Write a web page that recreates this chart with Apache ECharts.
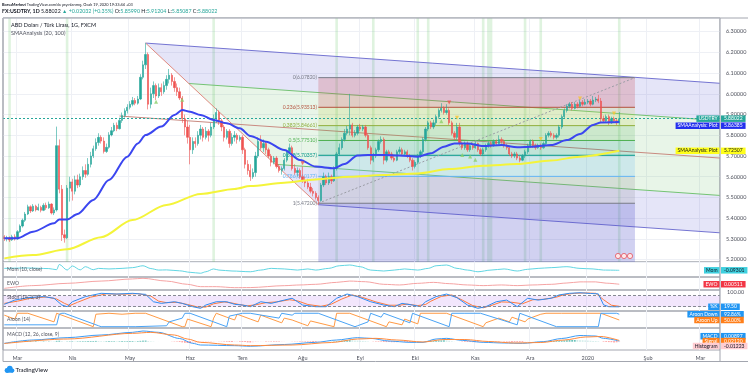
<!DOCTYPE html>
<html>
<head>
<meta charset="utf-8">
<title>USDTRY 1G</title>
<script src="https://cdn.jsdelivr.net/npm/echarts@6/dist/echarts.min.js"></script>
<style>
    html, body { margin: 0; padding: 0; background: #ffffff; }
    #chart { width: 750px; height: 377px; }
</style>
</head>
<body>
<div id="chart"></div>
<script>
// USDTRY gunluk grafik (TradingView goruntusu)

// ---- kategoriler: is gunleri, sagdaki bos alan dahil ----
var firstDay = '2019-02-22';
var dayCount = 274;
var monthNames = ['Oca', 'Şub', 'Mar', 'Nis', 'May', 'Haz', 'Tem', 'Ağu', 'Eyl', 'Eki', 'Kas', 'Ara'];

var dates = [];
(function () {
    var d = new Date(firstDay + 'T00:00:00Z');
    while (dates.length < dayCount) {
        var wd = d.getUTCDay();
        if (wd !== 0 && wd !== 6) dates.push(d.toISOString().slice(0, 10));
        d.setUTCDate(d.getUTCDate() + 1);
    }
})();

// ---- mumlar: [acilis, kapanis, dusuk, yuksek] ----
var ohlc = [
    [5.310,5.300,5.290,5.318],[5.300,5.305,5.288,5.315],[5.305,5.295,5.285,5.312],[5.295,5.310,5.290,5.320],[5.310,5.300,5.292,5.322],
    [5.300,5.335,5.296,5.342],[5.335,5.362,5.330,5.370],[5.362,5.390,5.355,5.398],[5.390,5.420,5.382,5.430],[5.420,5.455,5.415,5.465],
    [5.455,5.435,5.425,5.462],[5.435,5.458,5.430,5.468],[5.458,5.440,5.432,5.465],[5.440,5.452,5.436,5.470],[5.452,5.438,5.428,5.460],
    [5.438,5.462,5.434,5.472],[5.462,5.450,5.440,5.475],[5.450,5.468,5.445,5.480],[5.468,5.425,5.418,5.472],[5.425,5.440,5.415,5.452],
    [5.440,5.750,5.432,5.842],[5.750,5.540,5.520,5.780],[5.540,5.320,5.290,5.560],[5.320,5.305,5.282,5.345],[5.305,5.545,5.300,5.560],
    [5.545,5.575,5.480,5.600],[5.575,5.530,5.485,5.590],[5.530,5.585,5.515,5.605],[5.585,5.560,5.545,5.610],[5.560,5.600,5.550,5.615],
    [5.600,5.630,5.585,5.650],[5.630,5.612,5.595,5.660],[5.612,5.660,5.605,5.690],[5.660,5.700,5.645,5.720],[5.700,5.735,5.690,5.750],
    [5.735,5.765,5.725,5.785],[5.765,5.790,5.750,5.810],[5.790,5.772,5.760,5.800],[5.772,5.722,5.712,5.790],[5.722,5.742,5.715,5.760],
    [5.742,5.802,5.735,5.815],[5.802,5.822,5.795,5.840],[5.822,5.848,5.815,5.860],[5.848,5.832,5.820,5.862],[5.832,5.872,5.828,5.885],
    [5.872,5.895,5.860,5.910],[5.895,5.918,5.885,5.930],[5.918,5.935,5.905,5.950],[5.935,5.950,5.925,5.965],[5.950,5.968,5.940,5.985],
    [5.968,5.955,5.945,5.980],[5.955,5.975,5.948,5.990],[5.975,6.080,5.970,6.095],[6.080,6.140,6.070,6.160],[6.140,6.190,6.120,6.245],
    [6.190,5.950,5.925,6.200],[5.950,6.000,5.930,6.030],[6.000,6.040,5.980,6.060],[6.040,5.990,5.970,6.050],[5.990,6.030,5.980,6.050],
    [6.030,6.010,5.990,6.050],[6.010,6.040,6.000,6.060],[6.040,6.070,6.020,6.090],[6.070,6.090,6.050,6.120],[6.090,6.060,6.040,6.100],
    [6.060,6.030,6.010,6.080],[6.030,6.010,5.990,6.050],[6.010,5.980,5.970,6.030],[5.980,5.880,5.860,5.990],[5.880,5.840,5.800,5.900],
    [5.840,5.790,5.760,5.870],[5.790,5.730,5.660,5.850],[5.730,5.770,5.710,5.790],[5.770,5.760,5.740,5.790],[5.760,5.800,5.750,5.820],
    [5.800,5.830,5.780,5.850],[5.830,5.790,5.770,5.840],[5.790,5.820,5.780,5.840],[5.820,5.800,5.770,5.830],[5.800,5.840,5.790,5.860],
    [5.840,5.880,5.830,5.900],[5.880,5.910,5.860,5.930],[5.910,5.870,5.850,5.920],[5.870,5.840,5.820,5.880],[5.840,5.790,5.770,5.850],
    [5.790,5.820,5.780,5.830],[5.820,5.760,5.740,5.830],[5.760,5.790,5.750,5.810],[5.790,5.800,5.770,5.820],[5.800,5.780,5.760,5.810],
    [5.780,5.790,5.770,5.800],[5.790,5.730,5.710,5.800],[5.730,5.660,5.640,5.740],[5.660,5.630,5.610,5.680],[5.630,5.600,5.580,5.660],
    [5.600,5.620,5.590,5.640],[5.620,5.700,5.600,5.720],[5.700,5.770,5.690,5.790],[5.770,5.740,5.730,5.800],[5.740,5.760,5.720,5.780],
    [5.760,5.730,5.710,5.770],[5.730,5.700,5.690,5.740],[5.700,5.670,5.650,5.710],[5.670,5.690,5.660,5.700],[5.690,5.650,5.640,5.700],
    [5.650,5.630,5.620,5.660],[5.630,5.640,5.610,5.650],[5.640,5.680,5.630,5.690],[5.680,5.720,5.670,5.730],[5.720,5.740,5.710,5.760],
    [5.740,5.640,5.630,5.750],[5.640,5.620,5.610,5.660],[5.620,5.630,5.600,5.645],[5.630,5.600,5.590,5.640],[5.600,5.580,5.570,5.650],
    [5.580,5.570,5.550,5.600],[5.570,5.550,5.540,5.590],[5.550,5.530,5.520,5.570],[5.530,5.520,5.505,5.545],[5.520,5.500,5.490,5.530],
    [5.500,5.485,5.465,5.510],[5.485,5.560,5.480,5.570],[5.560,5.600,5.550,5.620],[5.600,5.570,5.560,5.610],[5.570,5.600,5.560,5.620],
    [5.600,5.580,5.565,5.610],[5.580,5.640,5.575,5.650],[5.640,5.710,5.630,5.720],[5.710,5.740,5.700,5.760],[5.740,5.780,5.730,5.790],
    [5.780,5.810,5.770,5.830],[5.810,5.830,5.800,5.845],[5.830,5.850,5.800,6.000],[5.850,5.800,5.790,5.860],[5.800,5.810,5.790,5.825],
    [5.810,5.840,5.800,5.850],[5.840,5.830,5.820,5.855],[5.830,5.840,5.820,5.850],[5.840,5.800,5.790,5.850],[5.800,5.740,5.730,5.810],
    [5.740,5.680,5.660,5.750],[5.680,5.700,5.670,5.715],[5.700,5.730,5.690,5.740],[5.730,5.770,5.720,5.780],[5.770,5.780,5.760,5.795],
    [5.780,5.680,5.660,5.790],[5.680,5.720,5.670,5.730],[5.720,5.710,5.700,5.730],[5.710,5.690,5.680,5.720],[5.690,5.680,5.670,5.700],
    [5.680,5.720,5.675,5.730],[5.720,5.730,5.710,5.745],[5.730,5.710,5.700,5.740],[5.710,5.720,5.700,5.730],[5.720,5.700,5.690,5.730],
    [5.700,5.680,5.670,5.710],[5.680,5.650,5.630,5.690],[5.650,5.670,5.640,5.680],[5.670,5.700,5.660,5.710],[5.700,5.720,5.690,5.730],
    [5.720,5.780,5.710,5.790],[5.780,5.830,5.770,5.840],[5.830,5.860,5.820,5.870],[5.860,5.840,5.830,5.870],[5.840,5.860,5.830,5.875],
    [5.860,5.890,5.850,5.900],[5.890,5.920,5.880,5.930],[5.920,5.930,5.910,5.955],[5.930,5.910,5.900,5.940],[5.910,5.920,5.900,5.950],
    [5.920,5.860,5.850,5.930],[5.860,5.810,5.800,5.870],[5.810,5.790,5.780,5.820],[5.790,5.840,5.780,5.860],[5.840,5.760,5.750,5.860],
    [5.760,5.740,5.730,5.770],[5.740,5.760,5.730,5.770],[5.760,5.730,5.720,5.770],[5.730,5.750,5.720,5.760],[5.750,5.740,5.730,5.760],
    [5.740,5.760,5.735,5.770],[5.760,5.730,5.720,5.765],[5.730,5.710,5.700,5.740],[5.710,5.730,5.700,5.740],[5.730,5.750,5.720,5.760],
    [5.750,5.760,5.740,5.770],[5.760,5.750,5.740,5.770],[5.750,5.770,5.745,5.780],[5.770,5.760,5.750,5.780],[5.760,5.780,5.755,5.800],
    [5.780,5.770,5.760,5.790],[5.770,5.750,5.740,5.780],[5.750,5.740,5.730,5.760],[5.740,5.710,5.700,5.750],[5.710,5.700,5.690,5.720],
    [5.700,5.710,5.690,5.720],[5.710,5.690,5.680,5.720],[5.690,5.680,5.670,5.700],[5.680,5.700,5.675,5.710],[5.700,5.720,5.690,5.730],
    [5.720,5.750,5.710,5.760],[5.750,5.770,5.740,5.780],[5.770,5.750,5.740,5.780],[5.750,5.740,5.730,5.760],[5.740,5.750,5.735,5.760],
    [5.750,5.740,5.730,5.760],[5.740,5.760,5.735,5.770],[5.760,5.800,5.750,5.810],[5.800,5.810,5.790,5.820],[5.810,5.800,5.790,5.820],
    [5.800,5.790,5.780,5.810],[5.790,5.800,5.780,5.810],[5.800,5.840,5.790,5.850],[5.840,5.890,5.830,5.900],[5.890,5.920,5.880,5.930],
    [5.920,5.940,5.910,5.950],[5.940,5.950,5.930,5.960],[5.950,5.930,5.920,5.960],[5.930,5.950,5.925,5.960],[5.950,5.940,5.930,5.960],
    [5.940,5.960,5.935,5.970],[5.960,5.950,5.940,5.970],[5.950,5.960,5.945,5.975],[5.960,5.965,5.950,5.975],[5.965,5.950,5.940,5.975],
    [5.950,5.970,5.945,5.990],[5.970,5.975,5.960,5.985],[5.975,5.965,5.955,5.995],[5.965,5.880,5.860,5.980],[5.880,5.870,5.860,5.895],
    [5.870,5.890,5.865,5.900],[5.890,5.860,5.850,5.900],[5.860,5.880,5.855,5.890],[5.880,5.870,5.860,5.890],[5.870,5.860,5.850,5.880],
    [5.85990,5.88022,5.85087,5.91204]
];
var lastClose = 5.88022;

// SMAAnalysis (20, 100) - okunan noktalar [gun, deger]
var sma20Pts = [[0,5.303],[5,5.303],[11,5.335],[19,5.375],[21,5.394],[24,5.394],[28,5.42],[34,5.488],[40,5.584],[47,5.697],
    [51,5.761],[54,5.801],[60,5.842],[65,5.898],[68,5.922],[71,5.914],[75,5.898],[80,5.874],[85,5.858],[90,5.834],
    [94,5.797],[100,5.769],[107,5.729],[113,5.681],[119,5.649],[126,5.641],[130,5.661],[135,5.702],[139,5.705],[145,5.705],
    [151,5.702],[158,5.697],[163,5.713],[168,5.745],[172,5.761],[177,5.761],[183,5.748],[190,5.753],[196,5.742],[202,5.745],
    [209,5.753],[215,5.777],[220,5.806],[225,5.85],[228,5.862],[235,5.86385]];
var sma100Pts = [[0,5.206],[11,5.222],[24,5.25],[37,5.308],[49,5.391],[62,5.464],[75,5.517],[88,5.541],[94,5.555],[107,5.571],
    [119,5.587],[132,5.6],[145,5.608],[158,5.616],[170,5.637],[183,5.653],[196,5.661],[209,5.678],[220,5.697],[235,5.72507]];

// sinyal ucgenleri
var upMarks = [[58,5.962],[68,5.972],[167,5.868],[175,5.705],[178,5.698],[180,5.682]];
var downMarks = [[114,5.665],[170,5.958]];
var yellowMarks = [[173,5.885],[205,5.782],[220,5.978],[233,5.905]];

// yesil arka plan seritleri (gun)
var greenBands = [2, 24, 80, 127, 141, 158, 162, 183, 185, 186, 199, 205, 235];

// Andrews pitchfork noktalari [gun, fiyat]
var pfP1 = [44, 5.893];
var pfP2 = [54, 6.245];
var pfP3 = [120, 5.465];

// Fibonacci duzeltmesi
var fibStartDay = 120;
var fibEndDay = 241;
var fibRatios = ['0', '0.236', '0.382', '0.5', '0.618', '0.786', '1', '1.618'];
var fibPrices = [6.07820, 5.93513, 5.84661, 5.77510, 5.70357, 5.60177, 5.47200, 5.09730];

// alt paneller
var momPts = [[0,0.01],[9,0.03],[17,0.0],[20,-0.06],[21,0.22],[24,-0.08],[26,0.14],[29,-0.07],[31,0.1],[34,-0.06],
    [36,0.01],[40,-0.02],[45,0.01],[49,0.05],[53,0.15],[56,0.0],[59,-0.08],[62,-0.07],[67,-0.12],[71,-0.2],
    [75,-0.25],[77,-0.17],[80,-0.02],[82,-0.08],[87,-0.13],[94,-0.17],[98,-0.08],[102,0.01],[107,-0.02],[112,-0.08],
    [116,-0.02],[119,-0.08],[124,0.01],[128,0.15],[132,0.19],[136,0.1],[140,-0.08],[145,-0.13],[149,-0.08],[153,-0.02],
    [158,-0.08],[162,0.01],[165,0.15],[169,0.19],[173,0.01],[177,-0.08],[181,-0.17],[186,-0.08],[191,-0.02],[196,-0.13],
    [200,-0.04],[204,0.01],[209,0.05],[215,0.1],[220,0.01],[225,-0.02],[229,-0.08],[235,-0.09301]];
var ewoPts = [[0,-0.25],[11,-0.08],[24,0.06],[37,0.2],[49,0.33],[53,0.37],[62,0.2],[70,0.0],[75,-0.145],[81,-0.145],
    [88,-0.206],[94,-0.2],[107,-0.083],[113,-0.04],[119,0.0],[127,0.12],[132,0.2],[138,0.16],[145,0.0],[151,-0.04],
    [158,0.06],[164,0.12],[170,0.04],[177,-0.04],[183,-0.08],[190,-0.04],[196,-0.08],[202,-0.04],[209,0.0],[215,0.08],
    [220,0.15],[226,0.15],[230,0.07],[235,0.00511]];
var stochK = [[0,33],[4,56],[9,69],[15,75],[19,66],[22,29],[24,20],[26,47],[31,75],[37,93],[43,89],[49,93],[54,87],[57,47],
    [60,38],[65,47],[68,38],[72,20],[75,11],[77,29],[81,47],[85,47],[88,33],[91,29],[94,20],[98,47],[102,38],[107,56],
    [110,66],[114,29],[119,20],[123,20],[127,66],[131,89],[135,75],[140,47],[145,29],[149,20],[152,38],[156,29],[159,20],
    [161,47],[165,75],[169,89],[173,69],[177,29],[181,11],[184,20],[188,47],[192,56],[196,20],[200,66],[204,56],[209,66],
    [212,84],[216,93],[220,96],[224,92],[227,90],[229,30],[231,20],[235,19.5]];
var stochD = [[0,38],[5,50],[10,66],[16,73],[20,62],[23,38],[25,26],[28,44],[33,72],[39,90],[45,88],[51,91],[56,78],[59,50],
    [62,42],[66,44],[70,32],[74,18],[77,18],[80,36],[84,46],[87,40],[90,31],[93,25],[96,30],[100,42],[104,46],[109,58],
    [112,52],[116,32],[121,22],[125,34],[129,62],[133,84],[137,70],[142,46],[147,28],[151,28],[154,34],[158,26],[161,32],
    [163,50],[167,76],[171,84],[175,56],[179,26],[183,14],[186,26],[190,46],[194,44],[198,36],[202,58],[206,60],[211,72],
    [214,86],[218,93],[222,95],[226,93],[229,58],[232,28],[235,22]];
var aroonUp = [[0,86],[4,57],[5,100],[9,100],[19,36],[20,100],[34,0],[35,93],[40,100],[45,93],[50,100],[54,100],[68,0],
    [69,0],[70,57],[79,0],[80,64],[81,100],[85,71],[88,50],[89,93],[94,57],[97,36],[98,86],[105,36],[106,29],[107,64],
    [110,50],[114,21],[116,7],[117,43],[126,0],[127,100],[132,100],[146,0],[147,36],[152,14],[153,57],[158,21],[159,100],
    [169,100],[183,0],[184,29],[189,64],[193,36],[194,71],[199,36],[200,57],[205,93],[207,100],[213,100],[228,100],[235,50]];
var aroonDown = [[0,14],[20,14],[21,93],[22,100],[23,100],[36,7],[37,0],[50,0],[62,7],[63,36],[68,64],[69,100],[71,100],
    [85,0],[86,79],[91,100],[94,100],[105,64],[106,100],[110,86],[111,100],[120,100],[134,0],[135,7],[139,36],[140,100],
    [144,71],[145,100],[155,29],[156,100],[170,0],[171,100],[176,100],[182,100],[196,14],[197,100],[211,0],[227,0],
    [228,100],[234,100],[235,92.86]];
var macdPts = [[0,-0.037],[11,0.03],[24,0.077],[37,0.13],[49,0.183],[53,0.21],[59,0.183],[67,0.06],[72,-0.037],[75,-0.07],
    [88,-0.083],[94,-0.095],[107,-0.06],[119,-0.017],[127,0.03],[135,0.077],[140,0.063],[147,0.01],[155,-0.017],[160,-0.017],
    [165,0.05],[169,0.063],[175,0.023],[183,-0.017],[191,-0.03],[198,-0.037],[206,-0.003],[213,0.06],[220,0.12],[226,0.11],
    [229,0.063],[235,0.00897]];
var signalPts = [[0,-0.04],[24,0.05],[49,0.163],[56,0.183],[65,0.13],[70,0.05],[75,-0.017],[88,-0.07],[94,-0.083],[110,-0.07],
    [125,-0.02],[135,0.05],[142,0.063],[150,0.03],[160,-0.01],[168,0.04],[176,0.04],[185,0.0],[195,-0.03],[205,-0.02],
    [214,0.03],[222,0.09],[228,0.1],[235,0.0212]];
// histogram, binde bir
var histVals = [
    0,1,1,2,2,
    4,5,6,8,9,9,8,8,7,6,6,5,5,4,3,
    12,14,8,2,4,6,7,6,6,7,8,
    8,9,10,10,11,10,8,7,7,8,8,8,7,7,8,
    8,9,9,10,9,9,12,14,16,10,
    6,4,2,1,0,-1,0,0,-2,-4,-6,-9,-14,-18,-22,
    -26,-25,-24,-22,-19,-16,-14,-11,-8,-5,-2,-2,-3,-5,-7,-9,-9,-8,-7,-7,
    -9,-12,-14,-15,-13,-10,-6,-4,-3,-3,-4,-5,-6,-6,-6,-5,-3,-1,0,-2,
    -3,-3,-4,-5,-6,-6,-7,-8,-9,-8,-5,-2,0,1,3,
    6,9,12,15,17,19,21,20,17,15,13,11,9,5,0,
    -3,-5,-6,-6,-10,-11,-12,-12,-12,-12,-11,-10,-10,-10,-11,-12,-11,
    -8,-5,-1,4,8,11,13,15,17,18,18,17,13,
    7,2,0,-1,-5,-8,-10,-11,-12,-12,-12,-11,-10,-9,-8,-7,-6,-5,-5,-4,
    -5,-6,-7,-8,-9,-9,-9,-9,-7,-4,-1,1,2,3,3,
    4,6,8,10,10,10,11,14,18,21,23,24,24,23,21,19,17,15,13,12,10,7,
    -2,-6,-9,-11,-12,-13,-13,-12
];

// ---- gorunum ----
var priceRange = [5.1885, 6.3661];
var panes = [
    {top: 18, height: 244},
    {top: 262, height: 15},
    {top: 277, height: 13},
    {top: 290, height: 21},
    {top: 311, height: 17},
    {top: 328, height: 22}
];
var paneRanges = [priceRange, [-0.45, 0.35], [-0.35, 0.45], [-3.5, 111], [-9.7, 117], [-0.17, 0.27]];
var FONT = 'Lato, "Noto Sans", sans-serif';
var fibColors = ['#787b86', '#b5533e', '#8fae3c', '#4caf50', '#009688', '#64b5f6', '#787b86'];
var fibFills = ['rgba(200,60,70,0.22)', 'rgba(190,205,70,0.2)', 'rgba(76,175,80,0.18)', 'rgba(0,150,136,0.17)',
    'rgba(100,181,246,0.2)', 'rgba(120,123,134,0.18)', 'rgba(85,85,205,0.27)'];

function isMonthStart(idx) {
    return idx > 0 && dates[idx].slice(5, 7) !== dates[idx - 1].slice(5, 7);
}
function monthLabel(v) {
    var m = parseInt(v.slice(5, 7), 10) - 1;
    return m === 0 ? v.slice(0, 4) : monthNames[m];
}

// veri -> piksel yardimcisi (kategori ekseni dogrusal)
function mapper(api) {
    var a = api.coord([0, priceRange[0]]);
    var b = api.coord([1, priceRange[0]]);
    var bw = b[0] - a[0];
    return {
        x: function (i) { return a[0] + i * bw; },
        y: function (p) { return api.coord([0, p])[1]; },
        bw: bw
    };
}

function renderBands(params, api) {
    var m = mapper(api);
    var i = api.value(0);
    var x = m.x(i) - m.bw / 2;
    var y0 = m.y(priceRange[1]), y1 = m.y(priceRange[0]);
    return {type: 'rect', shape: {x: x, y: y0, width: m.bw, height: y1 - y0},
        style: {fill: 'rgba(110,200,110,0.22)'}};
}

function renderPitchfork(params, api) {
    var m = mapper(api);
    var mid = [(pfP2[0] + pfP3[0]) / 2, (pfP2[1] + pfP3[1]) / 2];
    var slope = (mid[1] - pfP1[1]) / (mid[0] - pfP1[0]);
    var xEnd = dates.length - 0.5;
    function onHandle(f) { return [pfP2[0] + (pfP3[0] - pfP2[0]) * f, pfP2[1] + (pfP3[1] - pfP2[1]) * f]; }
    function atEnd(p) { return [xEnd, p[1] + slope * (xEnd - p[0])]; }
    function px(p) { return [m.x(p[0]), m.y(p[1])]; }
    var fr = [0, 0.25, 0.5, 0.75, 1];
    var starts = fr.map(onHandle);
    var ends = starts.map(atEnd);
    var zoneFill = ['rgba(100,100,215,0.17)', 'rgba(76,175,80,0.13)', 'rgba(76,175,80,0.13)', 'rgba(100,100,215,0.17)'];
    var lineCol = ['#7474d2', '#74c374', '#c98a80', '#74c374', '#7474d2'];
    var ch = [];
    for (var k = 0; k < 4; k++) {
        ch.push({type: 'polygon', shape: {points: [px(starts[k]), px(ends[k]), px(ends[k + 1]), px(starts[k + 1])]},
            style: {fill: zoneFill[k]}});
    }
    for (k = 0; k < 5; k++) {
        var s = k === 2 ? px(pfP1) : px(starts[k]);
        var e = px(ends[k]);
        ch.push({type: 'line', shape: {x1: s[0], y1: s[1], x2: e[0], y2: e[1]},
            style: {stroke: lineCol[k], lineWidth: 1}});
    }
    var h0 = px(pfP2), h1 = px(pfP3);
    ch.push({type: 'line', shape: {x1: h0[0], y1: h0[1], x2: h1[0], y2: h1[1]},
        style: {stroke: '#e08a80', lineWidth: 1}});
    return {type: 'group', children: ch};
}

function renderFib(params, api) {
    var m = mapper(api);
    var x0 = m.x(fibStartDay), x1 = m.x(fibEndDay);
    var ch = [];
    for (var k = 0; k < fibPrices.length - 1; k++) {
        var ya = m.y(fibPrices[k]);
        var yb = m.y(Math.max(fibPrices[k + 1], priceRange[0]));
        ch.push({type: 'rect', shape: {x: x0, y: ya, width: x1 - x0, height: yb - ya}, style: {fill: fibFills[k]}});
    }
    for (k = 0; k < 7; k++) {
        var y = m.y(fibPrices[k]);
        ch.push({type: 'line', shape: {x1: x0, y1: y, x2: x1, y2: y}, style: {stroke: fibColors[k], lineWidth: 1}});
        ch.push({type: 'text', x: x0 - 1.5, y: y,
            style: {text: fibRatios[k] + '(' + fibPrices[k].toFixed(5) + ')', fill: fibColors[k],
                font: '5px ' + FONT, align: 'right', verticalAlign: 'middle'}});
    }
    ch.push({type: 'line', shape: {x1: x0, y1: m.y(fibPrices[6]), x2: x1, y2: m.y(fibPrices[0])},
        style: {stroke: '#9a9ca5', lineWidth: 1, lineDash: [2, 2]}});
    return {type: 'group', children: ch};
}

var chart = echarts.init(document.getElementById('chart'));

var xAxes = panes.map(function (p, k) {
    return {
        type: 'category', gridIndex: k, data: dates, boundaryGap: true,
        axisLine: {show: false}, axisTick: {show: false},
        axisLabel: {show: k === 5, interval: function (idx) { return isMonthStart(idx); },
            formatter: monthLabel, fontSize: 5.5, color: '#50535e', margin: 5, fontFamily: FONT},
        splitLine: {show: true, interval: function (idx) { return isMonthStart(idx); },
            lineStyle: {color: '#eef0f5', width: 1}}
    };
});

var yAxes = panes.map(function (p, k) {
    if (k === 0) {
        return {
            type: 'value', gridIndex: 0, position: 'right', min: priceRange[0], max: priceRange[1], splitNumber: 12,
            axisLine: {show: false}, axisTick: {show: false},
            axisLabel: {fontSize: 5.5, color: '#50535e', margin: 6, fontFamily: FONT,
                formatter: function (v) { return Math.abs(v * 10 - Math.round(v * 10)) < 1e-6 ? v.toFixed(5) : ''; }},
            splitLine: {lineStyle: {color: '#eef0f5', width: 1}}
        };
    }
    return {type: 'value', gridIndex: k, min: paneRanges[k][0], max: paneRanges[k][1], show: false};
});

function lineSeries(k, data, color, smooth, extra) {
    var s = {type: 'line', xAxisIndex: k, yAxisIndex: k, data: data, symbol: 'none', silent: true,
        smooth: smooth, smoothMonotone: 'x', lineStyle: {color: color, width: 1}, z: 4};
    if (extra) for (var key in extra) s[key] = extra[key];
    return s;
}

var option = {
    animation: false,
    backgroundColor: '#ffffff',
    textStyle: {fontFamily: FONT},
    grid: panes.map(function (p) {
        return {left: 3, right: 30, top: p.top, height: p.height, show: true,
            borderColor: '#a3a6af', borderWidth: 1, backgroundColor: 'transparent'};
    }),
    xAxis: xAxes,
    yAxis: yAxes,
    series: [
        {type: 'custom', xAxisIndex: 0, yAxisIndex: 0, renderItem: renderBands, silent: true, z: 1,
            data: greenBands.map(function (i) { return [i, priceRange[0]]; }), encode: {x: 0, y: 1}},
        {type: 'custom', xAxisIndex: 0, yAxisIndex: 0, renderItem: renderPitchfork, silent: true, z: 1, clip: true,
            data: [[0, priceRange[0]]], encode: {x: 0, y: 1}},
        {type: 'custom', xAxisIndex: 0, yAxisIndex: 0, renderItem: renderFib, silent: true, z: 2, clip: true,
            data: [[0, priceRange[0]]], encode: {x: 0, y: 1}},
        {type: 'candlestick', xAxisIndex: 0, yAxisIndex: 0, data: ohlc, barWidth: 1.8, z: 5, silent: true,
            itemStyle: {color: '#26a69a', color0: '#ef5350', borderColor: '#26a69a', borderColor0: '#ef5350', borderWidth: 0.6},
            markLine: {silent: true, symbol: 'none', label: {show: false},
                lineStyle: {color: '#26a69a', type: [2, 2], width: 1}, data: [{yAxis: lastClose}]}},
        lineSeries(0, sma20Pts, '#3b46f0', 0.3, {lineStyle: {color: '#3b46f0', width: 2}, z: 6}),
        lineSeries(0, sma100Pts, '#f4f43a', 0.3, {lineStyle: {color: '#f4f43a', width: 2}, z: 6}),
        {type: 'scatter', xAxisIndex: 0, yAxisIndex: 0, data: upMarks, symbol: 'triangle', symbolSize: 4,
            itemStyle: {color: '#8bd06a'}, silent: true, z: 7},
        {type: 'scatter', xAxisIndex: 0, yAxisIndex: 0, data: downMarks, symbol: 'triangle', symbolRotate: 180, symbolSize: 4,
            itemStyle: {color: '#ef5350'}, silent: true, z: 7},
        {type: 'scatter', xAxisIndex: 0, yAxisIndex: 0, data: yellowMarks, symbol: 'triangle', symbolRotate: 180, symbolSize: 4,
            itemStyle: {color: '#f7c531'}, silent: true, z: 7},

        lineSeries(1, momPts, '#62d6e3', 0.3),
        lineSeries(2, ewoPts, '#f5a3a3', 0.3),
        lineSeries(3, stochD, '#ff7a3d', false),
        lineSeries(3, stochK, '#2f8cf2', false, {
            markArea: {silent: true, itemStyle: {color: 'rgba(190,130,240,0.2)'}, data: [[{yAxis: 80}, {yAxis: 20}]]},
            markLine: {silent: true, symbol: 'none', label: {show: false},
                lineStyle: {color: '#868993', type: [3, 2], width: 1}, data: [{yAxis: 80}, {yAxis: 20}]}
        }),
        lineSeries(4, aroonUp, '#ff9a45', false),
        lineSeries(4, aroonDown, '#4aa3f5', false),
        {type: 'bar', xAxisIndex: 5, yAxisIndex: 5, silent: true, barWidth: 1.8, z: 3,
            data: histVals.map(function (v, i) { return [i, v / 1000]; }),
            itemStyle: {color: function (p) {
                var v = histVals[p.dataIndex], prev = p.dataIndex > 0 ? histVals[p.dataIndex - 1] : v;
                if (v >= 0) return v >= prev ? '#26a69a' : '#b2dfdb';
                return v <= prev ? '#ff5252' : '#ffcdd2';
            }}},
        lineSeries(5, macdPts, '#3d9cf5', 0.3),
        lineSeries(5, signalPts, '#ff8a3d', 0.3)
    ]
};
chart.setOption(option);

// ---- metinler ve sag etiketler ----
function yOf(k, v) { return chart.convertToPixel({xAxisIndex: k, yAxisIndex: k}, [0, v])[1]; }

var g = [];
function txt(x, y, s, size, color, extra) {
    var st = {text: s, fill: color, font: size + 'px ' + FONT, align: 'left', verticalAlign: 'middle'};
    if (extra) for (var key in extra) st[key] = extra[key];
    g.push({type: 'text', x: x, y: y, style: st, z: 100});
}
function tag(name, value, y, bg, fg) {
    g.push({type: 'text', x: 719.5, y: y, z: 101, style: {text: name, fill: fg, backgroundColor: bg,
        padding: [1, 2, 0.5, 2], font: '5px ' + FONT, align: 'right', verticalAlign: 'middle'}});
    g.push({type: 'text', x: 721, y: y, z: 101, style: {text: value, fill: fg, backgroundColor: bg,
        padding: [1, 3, 0.5, 3], font: '5px ' + FONT, align: 'left', verticalAlign: 'middle'}});
}
function stack(items, spacing, lo, hi) {
    var mean = 0;
    items.forEach(function (it) { mean += it.y; });
    mean /= items.length;
    var y0 = mean - spacing * (items.length - 1) / 2;
    y0 = Math.min(Math.max(y0, lo), hi - spacing * (items.length - 1));
    items.forEach(function (it, n) { tag(it.name, it.value, y0 + n * spacing, it.bg, it.fg); });
}

// cerceve
[[3, 18, 748, 18], [3, 361.5, 748, 361.5], [3, 18, 3, 361.5], [720, 18, 720, 361.5]].forEach(function (l) {
    g.push({type: 'line', shape: {x1: l[0], y1: l[1], x2: l[2], y2: l[3]}, style: {stroke: '#a3a6af', lineWidth: 1}, z: 90});
});

// ust baslik
g.push({type: 'text', x: 2, y: 4.5, z: 100, style: {
    text: '{b|BorsaMerkezi} TradingView.com\'da yayınlanmış, Ocak 19, 2020 19:33:44 +03',
    font: '3.9px ' + FONT, fill: '#131722', verticalAlign: 'middle',
    rich: {b: {fontWeight: 'bold', fontSize: 3.9, fontFamily: FONT, fill: '#131722'}}}});
g.push({type: 'text', x: 2, y: 11.5, z: 100, style: {
    text: '{b|FX:USDTRY, 1D} 5.88022 {g|▲ +0.02032 (+0.35%)} O:{v|5.85990} H:{v|5.91204} L:{v|5.85087} C:{v|5.88022}',
    font: '5.3px ' + FONT, fill: '#131722', verticalAlign: 'middle',
    rich: {b: {fontWeight: 'bold', fontSize: 5.3, fontFamily: FONT, fill: '#131722'},
        g: {fontSize: 5.3, fontFamily: FONT, fill: '#26a69a'},
        v: {fontSize: 5.3, fontFamily: FONT, fill: '#26a69a'}}}});

txt(11, 25, 'ABD Doları / Türk Lirası, 1G, FXCM', 5.5, '#131722');
txt(11, 33, 'SMAAnalysis (20, 100)', 5.5, '#50535e');
txt(7, 269.5, 'Mom (10, close)', 5, '#50535e');
txt(7, 283.5, 'EWO', 5, '#50535e');
txt(7, 297.5, 'Stoch (14, 3, 3)', 5, '#50535e');
txt(7, 319, 'Aroon (14)', 5, '#50535e');
txt(7, 334.5, 'MACD (12, 26, close, 9)', 5, '#50535e');
txt(727, yOf(3, 100), '100.00', 5.5, '#50535e');

// ana panel etiketleri
var yClose = yOf(0, lastClose);
var ySma20 = Math.max(yOf(0, 5.86385), yClose + 7);
tag('USDTRY', '5.88022', yClose, '#26a69a', '#ffffff');
tag('SMAAnalysis: Plot', '5.86385', ySma20, '#2430ee', '#ffffff');
tag('SMAAnalysis: Plot', '5.72507', yOf(0, 5.72507), '#ffff1a', '#131722');

// alt panel etiketleri
tag('Mom', '-0.09301', yOf(1, -0.09301), '#3fd0df', '#131722');
tag('EWO', '0.00511', yOf(2, 0.00511), '#f23645', '#ffffff');
tag('%K', '19.50', yOf(3, 19.5), '#2196f3', '#ffffff');
tag('Aroon Down', '92.86%', yOf(4, 92.86), '#2196f3', '#ffffff');
tag('Aroon Up', '50.00%', Math.max(yOf(4, 50), yOf(4, 92.86) + 5.5), '#ff7f1a', '#ffffff');
stack([
    {name: 'MACD', value: '0.00897', y: yOf(5, 0.00897), bg: '#2196f3', fg: '#ffffff'},
    {name: 'Signal', value: '0.02120', y: yOf(5, 0.0212), bg: '#ff7f1a', fg: '#ffffff'},
    {name: 'Histogram', value: '-0.01223', y: yOf(5, -0.01223), bg: '#ffcdd2', fg: '#131722'}
], 4.9, 331, 346);

// olay simgeleri
[[618, 256], [624, 256], [630, 256]].forEach(function (c) {
    g.push({type: 'circle', shape: {cx: c[0], cy: c[1], r: 2.6}, style: {fill: '#fde8ea', stroke: '#e5535f', lineWidth: 0.8}, z: 95});
});

// TradingView logosu
[[7, 370.5, 2.4], [9.8, 368.6, 2.9], [12.3, 370.6, 2.1]].forEach(function (c) {
    g.push({type: 'circle', shape: {cx: c[0], cy: c[1], r: c[2]}, style: {fill: '#2196f3'}, z: 95});
});
g.push({type: 'rect', shape: {x: 6.5, y: 370.5, width: 6.3, height: 2.2}, style: {fill: '#2196f3'}, z: 95});
txt(15.5, 370.5, 'TradingView', 6, '#131722');

chart.setOption({graphic: g});
</script>
</body>
</html>
